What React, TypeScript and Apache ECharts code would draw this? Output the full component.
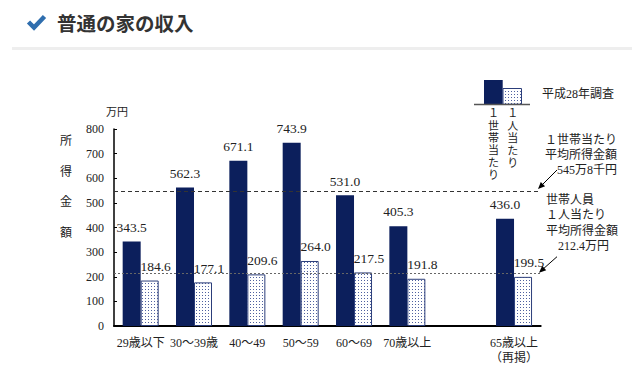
import React, { useEffect, useRef } from "react";
import * as echarts from "echarts";

const categories = ["29歳以下", "30～39歳", "40～49", "50～59", "60～69", "70歳以上", "", "65歳以上\n（再掲）"];
const perHousehold: (number | string)[] = [343.5, 562.3, 671.1, 743.9, 531.0, 405.3, "-", 436.0];
const perPerson: (number | string)[] = [184.6, 177.1, 209.6, 264.0, 217.5, 191.8, "-", 199.5];
const avgHousehold = 545.8;
const avgPerson = 212.4;
const yTicks = { min: 0, max: 800, interval: 100 };

const NAVY = "#0c1f5c";
const SERIF = "'Liberation Serif', 'Noto Sans CJK JP', serif";
const JP = "'Liberation Serif', 'Noto Sans CJK JP', sans-serif";

function makeDots() {
  const c = document.createElement("canvas");
  c.width = 3;
  c.height = 3;
  const ctx = c.getContext("2d")!;
  ctx.fillStyle = "#ffffff";
  ctx.fillRect(0, 0, 3, 3);
  ctx.fillStyle = "#4f61a0";
  ctx.fillRect(1, 1, 1, 1);
  return c;
}

export default function App() {
  const ref = useRef<HTMLDivElement>(null);
  useEffect(() => {
    if (!ref.current) return;
    const chart = echarts.init(ref.current, undefined, { renderer: "svg" });
    const dots = makeDots();
    const pattern: any = { image: dots, repeat: "repeat", imageWidth: 3, imageHeight: 3 };
    const fmt = (p: any) => (typeof p.value === "number" ? p.value.toFixed(1) : "");
    const txt = (x: number, y: number, text: string, extra: any = {}) => ({
      type: "text",
      x,
      y,
      style: {
        text,
        font: `12px ${JP}`,
        fill: "#222",
        textVerticalAlign: "middle",
        ...extra,
      },
    });
    const option: any = {
      animation: false,
      backgroundColor: "#ffffff",
      grid: { left: 114, right: 91.3, top: 129, bottom: 48 },
      xAxis: {
        type: "category",
        data: categories,
        axisLine: { lineStyle: { color: "#000", width: 2 } },
        axisTick: { show: false },
        axisLabel: {
          color: "#222",
          fontSize: 12,
          fontFamily: JP,
          margin: 9,
          lineHeight: 15,
          interval: 0,
        },
      },
      yAxis: {
        type: "value",
        min: yTicks.min,
        max: yTicks.max,
        interval: yTicks.interval,
        axisLine: { show: true, lineStyle: { color: "#000", width: 1.5 } },
        axisTick: { show: true, inside: true, length: 3, lineStyle: { color: "#000" } },
        splitLine: { show: false },
        axisLabel: { color: "#222", fontSize: 12, fontFamily: SERIF, margin: 10 },
      },
      series: [
        {
          type: "bar",
          data: perHousehold,
          barWidth: 18,
          barGap: "0%",
          itemStyle: { color: NAVY },
          label: {
            show: true,
            position: "top",
            distance: 5,
            offset: [0, -2.5],
            formatter: fmt,
            color: "#222",
            fontSize: 13.5,
            fontFamily: SERIF,
          },
          markLine: {
            silent: true,
            symbol: "none",
            label: { show: false },
            data: [
              { yAxis: avgHousehold, lineStyle: { color: "#333", type: [4, 3], width: 1 } },
              { yAxis: avgPerson, lineStyle: { color: "#666", type: [2, 2], width: 1 } },
            ],
          },
        },
        {
          type: "bar",
          data: perPerson,
          barWidth: 18,
          itemStyle: { color: pattern, borderColor: "#2c3e7a", borderWidth: 1 },
          label: {
            show: true,
            position: "top",
            distance: 5,
            offset: [6, -2.5],
            formatter: fmt,
            color: "#222",
            fontSize: 13.5,
            fontFamily: SERIF,
          },
        },
      ],
      graphic: [
        // header
        {
          type: "polyline",
          shape: { points: [[28.5, 22], [34, 27.5], [44.5, 16.5]] },
          style: { stroke: "#2f6eae", lineWidth: 4.5, fill: null, lineJoin: "miter", lineCap: "butt" },
        },
        txt(57, 22, "普通の家の収入", { font: `bold 19.5px 'Noto Sans CJK JP', sans-serif`, fill: "#333" }),
        { type: "rect", shape: { x: 12, y: 47, width: 620, height: 3 }, style: { fill: "#eeeeee" } },
        // axis titles
        txt(106, 112, "万円", { font: `11px ${JP}` }),
        {
          type: "text",
          x: 66,
          y: 187,
          style: {
            text: "所\n得\n金\n額",
            font: `12px ${JP}`,
            fill: "#222",
            textAlign: "center",
            textVerticalAlign: "middle",
            lineHeight: 30.5,
          },
        },
        // legend
        { type: "rect", shape: { x: 484, y: 80, width: 18.7, height: 24.3 }, style: { fill: NAVY } },
        {
          type: "rect",
          shape: { x: 503, y: 88.5, width: 18.5, height: 15.8 },
          style: { fill: pattern, stroke: "#2c3e7a", lineWidth: 1 },
        },
        { type: "line", shape: { x1: 474, y1: 104.5, x2: 530, y2: 104.5 }, style: { stroke: "#555", lineWidth: 1.5 } },
        txt(542, 94, "平成28年調査"),
        {
          type: "text",
          x: 493.5,
          y: 107,
          style: {
            text: "１\n世\n帯\n当\nた\nり",
            font: `11px ${JP}`,
            fill: "#222",
            textAlign: "center",
            textVerticalAlign: "top",
            lineHeight: 12.4,
          },
        },
        {
          type: "text",
          x: 512.7,
          y: 107,
          style: {
            text: "１\n人\n当\nた\nり",
            font: `11px ${JP}`,
            fill: "#222",
            textAlign: "center",
            textVerticalAlign: "top",
            lineHeight: 12.5,
          },
        },
        // annotation 1
        txt(545, 139.5, "１世帯当たり"),
        txt(545, 154.5, "平均所得金額"),
        txt(557, 169.5, "545万8千円"),
        { type: "line", shape: { x1: 557, y1: 170, x2: 541, y2: 186 }, style: { stroke: "#000", lineWidth: 1 } },
        {
          type: "polygon",
          shape: { points: [[538, 189], [545.1, 186.2], [540.8, 181.9]] },
          style: { fill: "#000" },
        },
        // annotation 2
        txt(546, 199.5, "世帯人員"),
        txt(546, 215, "１人当たり"),
        txt(546, 230.7, "平均所得金額"),
        txt(558, 245.7, "212.4万円"),
        { type: "line", shape: { x1: 557, y1: 256.7, x2: 542, y2: 270 }, style: { stroke: "#000", lineWidth: 1 } },
        {
          type: "polygon",
          shape: { points: [[539, 272.7], [546.2, 270.3], [542.2, 265.8]] },
          style: { fill: "#000" },
        },
      ],
    };
    chart.setOption(option);
    return () => chart.dispose();
  }, []);
  return (
    <div
      ref={ref}
      style={{ position: "fixed", left: 0, top: 0, width: 632, height: 374, background: "#fff" }}
    />
  );
}
